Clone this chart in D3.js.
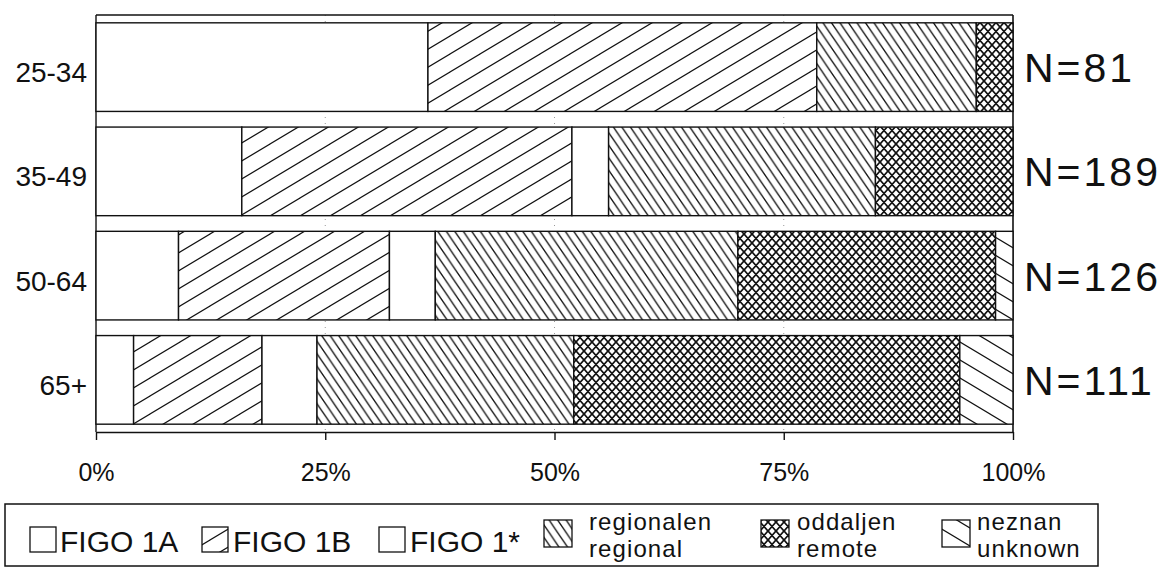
<!DOCTYPE html>
<html>
<head>
<meta charset="utf-8">
<script src="https://cdn.jsdelivr.net/npm/d3@7/dist/d3.min.js"></script>
<style>
  html, body { margin: 0; padding: 0; background: #fff; }
  svg { display: block; }
  text { font-family: "Liberation Sans", Arial, Helvetica, sans-serif; fill: #111; }
</style>
</head>
<body>
<div id="chart"></div>
<script>
// ---------------- data ----------------
const categories = ["25-34", "35-49", "50-64", "65+"];
const nLabels = ["N=81", "N=189", "N=126", "N=111"];
const tickValues = [0, 25, 50, 75, 100];

const seriesKeys = ["figo1a", "figo1b", "figo1star", "regional", "remote", "unknown"];
const figo1a    = [36.2, 15.9,  9.0,  4.1];
const figo1b    = [42.4, 36.0, 23.0, 14.0];
const figo1star = [ 0.0,  4.0,  5.0,  6.0];
const regional  = [17.4, 29.1, 33.0, 28.0];
const remote    = [ 4.0, 15.0, 28.1, 42.1];
const unknown   = [ 0.0,  0.0,  1.9,  5.8];

const legendLines = [
  ["FIGO 1A"], ["FIGO 1B"], ["FIGO 1*"],
  ["regionalen", "regional"], ["oddaljen", "remote"], ["neznan", "unknown"]
];

// ---------------- setup ----------------
const W = 1168, H = 569;
const svg = d3.select("#chart").append("svg").attr("width", W).attr("height", H);

const defs = svg.append("defs");
function hatch(id, w, h, dirs, sw) {
  const p = defs.append("pattern").attr("id", id)
    .attr("patternUnits", "userSpaceOnUse").attr("width", w).attr("height", h);
  p.append("rect").attr("width", w).attr("height", h).attr("fill", "#fff");
  let d = "";
  dirs.forEach(dir => {
    for (let k = -3; k <= 3; k++) {
      if (dir > 0) d += `M${k*w - w},${-h}L${k*w + 2*w},${2*h}`;
      else d += `M${k*w + w},${-h}L${k*w - 2*w},${2*h}`;
    }
  });
  p.append("path").attr("d", d).attr("stroke", "#111").attr("stroke-width", sw).attr("fill", "none");
}
hatch("p1b", 30, 18, [-1], 1.2);
hatch("preg", 8.5, 12.5, [1], 1.3);
hatch("prem", 8, 9, [1, -1], 1.7);
hatch("punk", 30, 18, [1], 1.2);

const fills = {
  figo1a: "#fff", figo1b: "url(#p1b)", figo1star: "#fff",
  regional: "url(#preg)", remote: "url(#prem)", unknown: "url(#punk)"
};

const x = d3.scaleLinear().domain([0, 100]).range([96, 1013]);
const y = d3.scaleBand().domain(categories).range([15, 432])
  .paddingInner(0.15).paddingOuter(0.075);

// gridlines (faint, behind bars)
svg.append("g").selectAll("line").data(tickValues.slice(1, -1)).join("line")
  .attr("x1", d => x(d)).attr("x2", d => x(d))
  .attr("y1", 15).attr("y2", 432)
  .attr("stroke", "#999").attr("stroke-width", 1).attr("stroke-dasharray", "1,5");

// frame
svg.append("line").attr("x1", x(0)).attr("x2", x(100)).attr("y1", 15).attr("y2", 15)
  .attr("stroke", "#111").attr("stroke-width", 1.6);
svg.append("line").attr("x1", x(0)).attr("x2", x(0)).attr("y1", 15).attr("y2", 432)
  .attr("stroke", "#111").attr("stroke-width", 1.4);
svg.append("line").attr("x1", x(100)).attr("x2", x(100)).attr("y1", 15).attr("y2", 432)
  .attr("stroke", "#111").attr("stroke-width", 1.6);

// stacked bars
const rows = categories.map((c, i) => ({
  cat: c, figo1a: figo1a[i], figo1b: figo1b[i], figo1star: figo1star[i],
  regional: regional[i], remote: remote[i], unknown: unknown[i]
}));
const stacked = d3.stack().keys(seriesKeys)(rows);

const gBars = svg.append("g");
stacked.forEach(s => {
  gBars.append("g").selectAll("rect")
    .data(s.filter(d => d[1] - d[0] > 0))
    .join("rect")
    .attr("x", d => x(d[0]))
    .attr("width", d => x(d[1]) - x(d[0]))
    .attr("y", d => y(d.data.cat))
    .attr("height", y.bandwidth())
    .attr("fill", fills[s.key])
    .attr("stroke", "#111")
    .attr("stroke-width", 1.4);
});

// x axis
const axis = d3.axisBottom(x).tickValues(tickValues).tickFormat(d => d + "%")
  .tickSize(8).tickSizeOuter(0).tickPadding(23);
const gAx = svg.append("g").attr("transform", "translate(0,432)").call(axis);
gAx.select(".domain").attr("stroke", "#111").attr("stroke-width", 1.6);
gAx.selectAll(".tick line").attr("stroke", "#111").attr("stroke-width", 1.4);
gAx.selectAll(".tick text").attr("font-size", 25).attr("fill", "#111")
  .attr("font-family", '"Liberation Sans", Arial, sans-serif');

// category labels
svg.append("g").selectAll("text").data(categories).join("text")
  .attr("x", 87).attr("y", d => y(d) + y.bandwidth() / 2 + 15)
  .attr("text-anchor", "end").attr("font-size", 28).text(d => d);

// N labels
svg.append("g").selectAll("text").data(nLabels).join("text")
  .attr("x", 1024).attr("y", (d, i) => y(categories[i]) + y.bandwidth() / 2 + 15)
  .attr("font-size", 41).attr("letter-spacing", 3).text(d => d);

// legend
svg.append("rect").attr("x", 5).attr("y", 504).attr("width", 1093).attr("height", 62)
  .attr("fill", "none").attr("stroke", "#111").attr("stroke-width", 1.5);

const legendBoxX = [30, 202, 379, 544, 761, 942];
const legendTextX = [60, 233, 410, 589, 797, 977];
const gLeg = svg.append("g");
seriesKeys.forEach((k, i) => {
  const lines = legendLines[i];
  const two = lines.length > 1;
  gLeg.append("rect")
    .attr("x", legendBoxX[i]).attr("y", two ? 520 : 527)
    .attr("width", two ? 28 : 26).attr("height", two ? 27 : 25)
    .attr("fill", fills[k]).attr("stroke", "#111").attr("stroke-width", 1.3);
  if (two) {
    lines.forEach((ln, j) => {
      gLeg.append("text").attr("x", legendTextX[i]).attr("y", 530 + j * 27)
        .attr("font-size", 24).attr("letter-spacing", 1.1).text(ln);
    });
  } else {
    gLeg.append("text").attr("x", legendTextX[i]).attr("y", 552)
      .attr("font-size", 30).text(lines[0]);
  }
});
</script>
</body>
</html>
